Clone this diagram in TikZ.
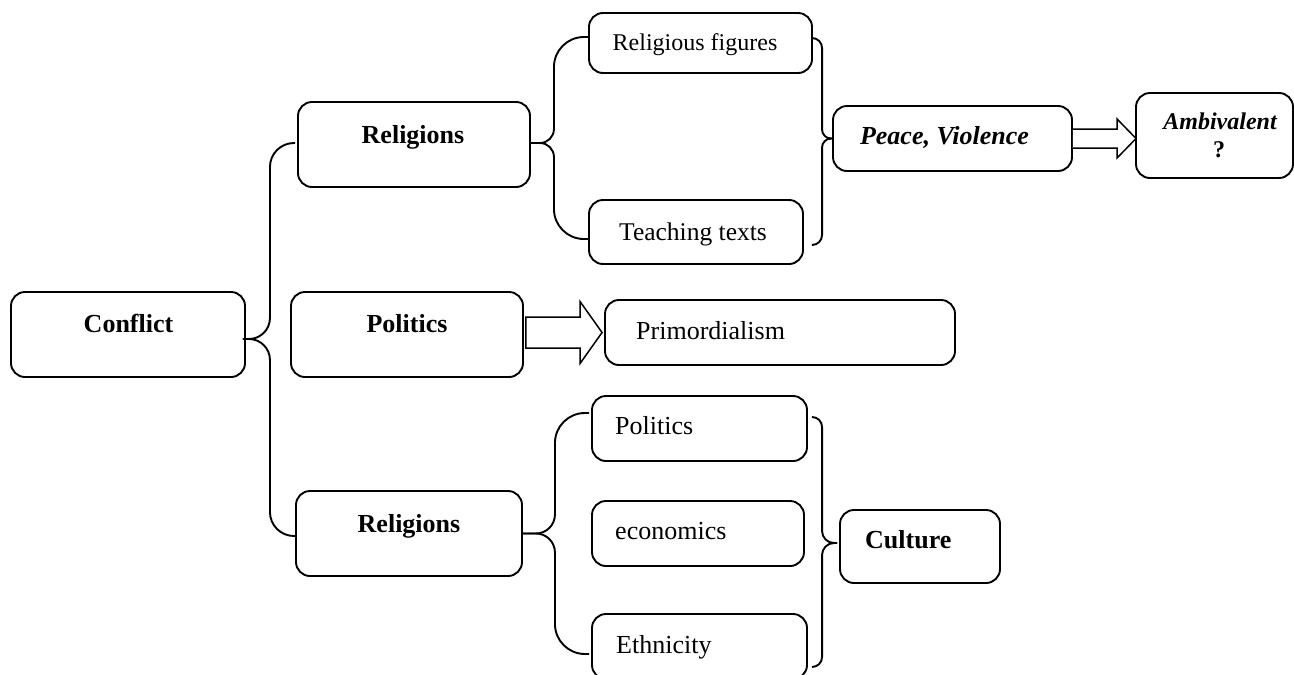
\documentclass[tikz,border=0pt]{standalone}
\usepackage{fontspec}
\setmainfont{Liberation Serif}
\usetikzlibrary{calc}
% half of a curly brace: #1 free end, #2 tip, #3 spine x-offset from tip,
% #4 side sign of free end w.r.t. spine, #5 vertical sign (+1 = free end above tip),
% #6 radius at the free end, #7 radius at the tip
\newcommand\bracehalf[7]{%
  \draw[brace] let \p1=(#1), \p2=(#2) in
    (\x1,\y1) -- ({\x2+(#3pt)+(#4)*(#6pt)},\y1)
    .. controls ({\x2+(#3pt)+(#4)*0.448*(#6pt)},\y1) and ({\x2+(#3pt)},{\y1-(#5)*0.448*(#6pt)})
    .. ({\x2+(#3pt)},{\y1-(#5)*(#6pt)})
    -- ({\x2+(#3pt)},{\y2+(#5)*(#7pt)})
    .. controls ({\x2+(#3pt)},{\y2+(#5)*0.448*(#7pt)}) and ({\x2+(#3pt)-(#4)*0.448*(#7pt)},\y2)
    .. ({\x2+(#3pt)-(#4)*(#7pt)},\y2) -- (\x2,\y2);}
\begin{document}
\begin{tikzpicture}[x=1pt,y=-1pt,
  box/.style={draw, line width=1.9pt, rounded corners=14pt, inner sep=0pt},
  brace/.style={draw, line width=1.9pt},
  blockarrow/.style={draw, line width=1.5pt, fill=white, line join=miter},
  txt/.style={inner sep=0pt, anchor=base, font=\fontsize{26}{30}\selectfont},
  txtl/.style={txt, anchor=base west},
  btxt/.style={txt, font=\fontsize{26}{30}\selectfont\bfseries},
  bitxt/.style={txt, font=\fontsize{26}{30}\selectfont\bfseries\itshape}]
\path[use as bounding box, clip] (0,0) rectangle (1294,675);

% boxes
\node[box, minimum width=234pt, minimum height=85pt] (conflict) at (128,334.5) {};
\node[box, minimum width=232pt, minimum height=85pt] (rel1) at (414,144.5) {};
\node[box, minimum width=232pt, minimum height=85pt] (pol1) at (407,334.5) {};
\node[box, minimum width=226pt, minimum height=85pt] (rel3) at (409,533.5) {};
\node[box, minimum width=223pt, minimum height=60pt] (figures) at (700.5,43) {};
\node[box, minimum width=214pt, minimum height=64pt] (teaching) at (696,232) {};
\node[box, minimum width=239pt, minimum height=65pt] (peace) at (952.5,138.5) {};
\node[box, minimum width=157pt, minimum height=85pt] (amb) at (1214.5,135.5) {};
\node[box, minimum width=350pt, minimum height=65pt] (prim) at (780,332.5) {};
\node[box, minimum width=215pt, minimum height=65pt] (pol2) at (699.5,428.5) {};
\node[box, minimum width=212pt, minimum height=65pt] (econ) at (698,533.5) {};
\node[box, minimum width=215pt, minimum height=65pt] (eth) at (699.5,646.5) {};
\node[box, minimum width=160pt, minimum height=73pt] (culture) at (920,546.5) {};

% texts
\node[btxt] (conflict-t) at (128.5,332) {Conflict};
\node[btxt] (rel1-t) at (413,143) {Religions};
\node[btxt] (pol1-t) at (407,332) {Politics};
\node[btxt] (rel3-t) at (409,532) {Religions};
\node[txt, font=\fontsize{24}{28}\selectfont] (figures-t) at (695,50) {Religious figures};
\node[txt, font=\fontsize{25.5}{30}\selectfont] (teaching-t) at (693,240) {Teaching texts};
\node[bitxt] (peace-t) at (944.5,144) {Peace, Violence};
\node[txt, font=\fontsize{24}{28}\selectfont\bfseries\itshape] (amb-t1) at (1220,129) {Ambivalent};
\node[txt, font=\fontsize{24}{28}\selectfont\bfseries] (amb-t2) at (1219,157) {?};
\node[txtl] (prim-t) at (636,339) {Primordialism};
\node[txtl] (pol2-t) at (615,434) {Politics};
\node[txtl] (econ-t) at (615,539) {economics};
\node[txtl] (eth-t) at (616,653) {Ethnicity};
\node[btxt, anchor=base west] (culture-t) at (865,548) {Culture};

% brace from Conflict
\coordinate (t1) at ($(conflict.east)+(-3,4.5)$);
\bracehalf{$(rel1.west)+(-2,-1.5)$}{t1}{27}{1}{1}{24}{21}
\bracehalf{$(rel3.west)+(0,2.5)$}{t1}{27}{1}{-1}{24}{21}

% brace from upper Religions
\coordinate (t2) at ($(rel1.east)+(0,-1.5)$);
\bracehalf{$(figures.west)+(0,-6)$}{t2}{23}{1}{1}{30}{14}
\bracehalf{$(teaching.west)+(0,7)$}{t2}{23}{1}{-1}{30}{14}

% closing brace to Peace, Violence
\coordinate (t3) at (peace.west);
\bracehalf{$(figures.east)+(0,-5)$}{t3}{-10}{-1}{1}{10}{9}
\bracehalf{$(teaching.east)+(8,13)$}{t3}{-10}{-1}{-1}{10}{9}

% brace from lower Religions
\coordinate (t4) at (rel3.east);
\bracehalf{$(pol2.west)+(-2,-15.5)$}{t4}{32}{1}{1}{30}{19}
\bracehalf{$(eth.west)+(-2,7.5)$}{t4}{32}{1}{-1}{30}{19}

% closing brace to Culture
\coordinate (t5) at ($(culture.west)+(-2,-3.5)$);
\bracehalf{$(pol2.east)+(5,-11.5)$}{t5}{-15}{-1}{1}{10}{12}
\bracehalf{$(eth.east)+(5,20.5)$}{t5}{-15}{-1}{-1}{10}{12}

% block arrows
\draw[blockarrow] let \p1=(peace.east), \p2=(amb.west) in
  (\x1,\y1+9.5pt) -- (\x2-18pt,\y1+9.5pt) -- (\x2-18pt,\y1+19.5pt) -- (\x2+1pt,\y1)
  -- (\x2-18pt,\y1-19.5pt) -- (\x2-18pt,\y1-9.5pt) -- (\x1,\y1-9.5pt);
\draw[blockarrow] let \p1=(pol1.east), \p2=(prim.west) in
  (\x1+2pt,\y2+15.5pt) -- (\x2-24pt,\y2+15.5pt) -- (\x2-24pt,\y2+31pt) -- (\x2-2pt,\y2)
  -- (\x2-24pt,\y2-31pt) -- (\x2-24pt,\y2-15.5pt) -- (\x1+2pt,\y2-15.5pt) -- cycle;
\end{tikzpicture}
\end{document}
